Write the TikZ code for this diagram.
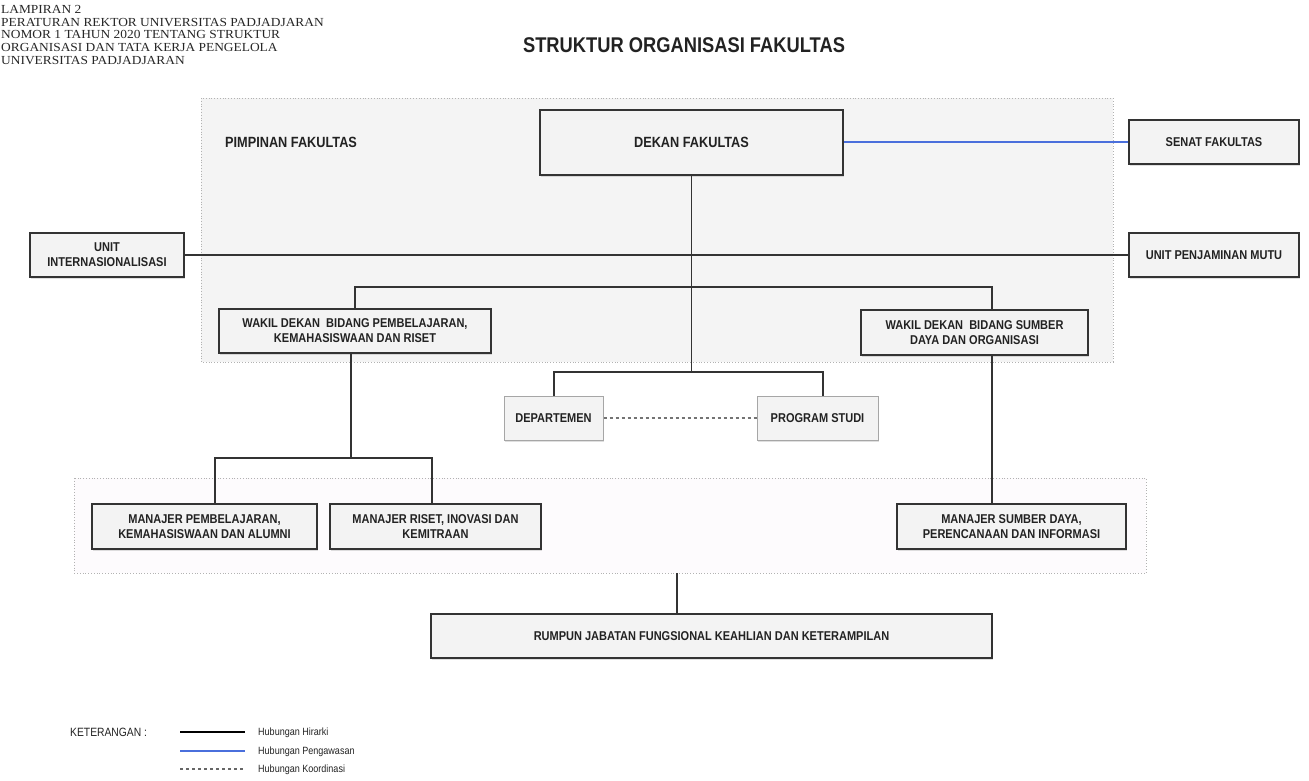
\documentclass[tikz,border=0pt]{standalone}
\usepackage{fontspec}
\setmainfont{Liberation Sans}
\newfontfamily\boxfont[FakeStretch=0.86]{Liberation Sans}
\newfontfamily\headserif[FakeStretch=1.09]{Liberation Serif}
\usetikzlibrary{shadows}
\definecolor{boxfill}{HTML}{F3F3F3}
\definecolor{regfill}{HTML}{F4F4F4}
\definecolor{reg2fill}{HTML}{FDFBFD}
\definecolor{linegray}{HTML}{333333}
\definecolor{txtgray}{HTML}{222222}
\definecolor{bluel}{HTML}{4A6FDC}
\tikzset{
  orgbox/.style={draw=linegray, line width=1.5pt, fill=boxfill, align=center,
    font=\boxfont\bfseries\fontsize{12.8}{15}\selectfont, text=txtgray, inner sep=0pt,
    drop shadow={shadow xshift=1pt, shadow yshift=-1.5pt, opacity=0.25}},
  lightbox/.style={orgbox, draw=black!35, line width=1pt},
  region/.style={draw=black!30, dotted, line width=0.8pt},
  hline/.style={draw=linegray, line width=1.2pt},
  bline/.style={draw=bluel, line width=1.2pt},
  cline/.style={draw=black!55, dashed, dash pattern=on 3pt off 3pt, line width=1.2pt},
  legtext/.style={font=\boxfont\fontsize{10.5}{12}\selectfont, text=txtgray, anchor=west, inner sep=0pt},
}
\begin{document}
\begin{tikzpicture}[x=1pt,y=-1pt]
\useasboundingbox (0,0) rectangle (1309,781);
% header
\node[anchor=north west, align=left, inner sep=0pt, text=black!85,
  font=\headserif\fontsize{12.3}{12.7}\selectfont] (hdr) at (1,5)
  {LAMPIRAN 2\\PERATURAN REKTOR UNIVERSITAS PADJADJARAN\\NOMOR 1 TAHUN 2020 TENTANG STRUKTUR\\ORGANISASI DAN TATA KERJA PENGELOLA\\UNIVERSITAS PADJADJARAN};
\node[font=\boxfont\bfseries\fontsize{21.3}{24}\selectfont, text=txtgray, inner sep=0pt] (title) at (684,45) {STRUKTUR ORGANISASI FAKULTAS};
% regions
\path[region, fill=regfill] (201,98) rectangle (1113,362);
\path[region, fill=reg2fill] (74,478) rectangle (1146,573);
\node[anchor=west, inner sep=0pt, font=\boxfont\bfseries\fontsize{14.8}{17}\selectfont, text=txtgray] (pim) at (225,142) {PIMPINAN FAKULTAS};
% nodes
\node[orgbox, line width=2.4pt, minimum width=303, minimum height=65, font=\boxfont\bfseries\fontsize{14.8}{17}\selectfont] (dekan) at (691.5,142.5) {DEKAN FAKULTAS};
\node[orgbox, minimum width=170, minimum height=44] (senat) at (1214,142) {SENAT FAKULTAS};
\node[orgbox, minimum width=154, minimum height=44] (uint) at (107,255) {UNIT\\INTERNASIONALISASI};
\node[orgbox, minimum width=170, minimum height=44] (upm) at (1214,255) {UNIT PENJAMINAN MUTU};
\node[orgbox, minimum width=272, minimum height=44] (wd1) at (355,331) {WAKIL DEKAN\ \ BIDANG PEMBELAJARAN,\\KEMAHASISWAAN DAN RISET};
\node[orgbox, minimum width=227, minimum height=45] (wd2) at (974.5,332.5) {WAKIL DEKAN\ \ BIDANG SUMBER\\DAYA DAN ORGANISASI};
\node[lightbox, minimum width=99, minimum height=44] (dep) at (553.5,418) {DEPARTEMEN};
\node[lightbox, minimum width=121, minimum height=44] (ps) at (817.5,418) {PROGRAM STUDI};
\node[orgbox, minimum width=225, minimum height=45] (m1) at (204.5,526.5) {MANAJER PEMBELAJARAN,\\KEMAHASISWAAN DAN ALUMNI};
\node[orgbox, minimum width=211, minimum height=45] (m2) at (435.5,526.5) {MANAJER RISET, INOVASI DAN\\KEMITRAAN};
\node[orgbox, minimum width=229, minimum height=45] (m3) at (1011.5,526.5) {MANAJER SUMBER DAYA,\\PERENCANAAN DAN INFORMASI};
\node[orgbox, minimum width=561, minimum height=44] (rumpun) at (711.5,636) {RUMPUN JABATAN FUNGSIONAL KEAHLIAN DAN KETERAMPILAN};
\coordinate (regbot) at (677,573);
% junctions
\coordinate (jw1) at (355,287);
\coordinate (jw2) at (992,287);
\coordinate (jd) at (691.5,372);
\coordinate (jd1) at (554,372);
\coordinate (jd2) at (823,372);
\coordinate (jm) at (351,458);
\coordinate (jm1) at (215,458);
\coordinate (jm2) at (432,458);
% connectors
\draw[bline] (senat.west) -- (dekan.east |- senat.west);
\draw[hline] (uint.east) -- (upm.west);
\draw[hline] (dekan.south) -- (jd);
\draw[hline] (wd1.north -| jw1) -- (jw1) -- (jw2) -- (wd2.north -| jw2);
\draw[hline] (dep.north -| jd1) -- (jd1) -- (jd2) -- (ps.north -| jd2);
\draw[cline] (dep.east) -- (ps.west);
\draw[hline] (wd1.south -| jm) -- (jm);
\draw[hline] (m1.north -| jm1) -- (jm1) -- (jm2) -- (m2.north -| jm2);
\draw[hline] (wd2.south -| jw2) -- (m3.north -| jw2);
\draw[hline] (regbot) -- (rumpun.north -| regbot);
% legend
\node[anchor=west, inner sep=0pt, font=\boxfont\fontsize{12}{14}\selectfont, text=txtgray] (ket) at (70,732) {KETERANGAN :};
\coordinate (l1a) at (180,732); \coordinate (l1b) at (245,732);
\coordinate (l2a) at (180,751); \coordinate (l2b) at (245,751);
\coordinate (l3a) at (180,769); \coordinate (l3b) at (245,769);
\draw[draw=black, line width=1.1pt] (l1a) -- (l1b);
\draw[draw=bluel, line width=1.3pt] (l2a) -- (l2b);
\draw[draw=black!60, line width=1.1pt, dash pattern=on 3pt off 3pt] (l3a) -- (l3b);
\node[legtext] (t1) at (258,733) {Hubungan Hirarki};
\node[legtext] (t2) at (258,752) {Hubungan Pengawasan};
\node[legtext] (t3) at (258,770) {Hubungan Koordinasi};
\end{tikzpicture}
\end{document}
